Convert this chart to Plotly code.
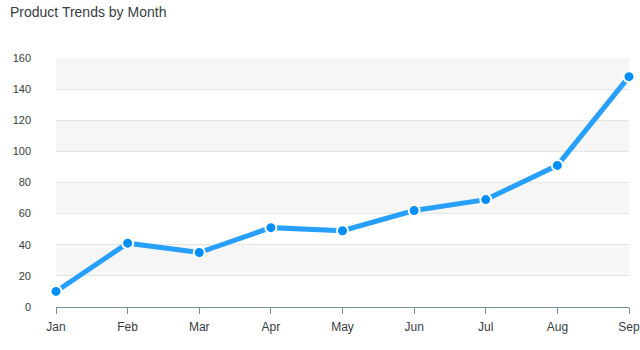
import plotly.graph_objects as go

months = ["Jan", "Feb", "Mar", "Apr", "May", "Jun", "Jul", "Aug", "Sep"]
values = [10, 41, 35, 51, 49, 62, 69, 91, 148]
y_ticks = [0, 20, 40, 60, 80, 100, 120, 140, 160]
band_ranges = [(20, 40), (60, 80), (100, 120), (140, 160)]

fig = go.Figure()
fig.add_trace(go.Scatter(
    x=list(range(len(months))), y=values, mode="lines+markers",
    line=dict(color="#26A0FC", width=5),
    marker=dict(color="#008FFB", size=11, line=dict(color="#ffffff", width=2)),
    cliponaxis=False, hoverinfo="x+y",
))

shapes = []
for lo, hi in band_ranges:
    shapes.append(dict(type="rect", xref="paper", yref="y", x0=0, x1=1, y0=lo, y1=hi,
                       fillcolor="#f6f6f6", line=dict(width=0), layer="below"))

font = "Liberation Sans, Arial, sans-serif"
fig.update_layout(
    width=640, height=350,
    margin=dict(l=56, r=11, t=58, b=43),
    paper_bgcolor="white", plot_bgcolor="white",
    showlegend=False,
    shapes=shapes,
    title=dict(text="Product Trends by Month", x=10/640, xanchor="left", y=1-12/350, yanchor="middle",
               font=dict(family=font, size=14, color="#373d3f")),
    font=dict(family=font, color="#373d3f", size=11),
    xaxis=dict(
        range=[0, 8], tickmode="array", tickvals=list(range(len(months))), ticktext=months,
        showgrid=False, zeroline=False, showline=True, linecolor="#78909c", linewidth=1,
        ticks="outside", ticklen=6, tickcolor="#78909c", tickfont=dict(size=12, family=font, color="#373d3f"),
        ticklabelstandoff=3, fixedrange=True, automargin=False,
    ),
    yaxis=dict(
        range=[0, 160], tickvals=y_ticks, showgrid=True, gridcolor="#e5e5e5", gridwidth=1,
        zeroline=False, showline=False, ticks="", ticklabelstandoff=24,
        tickfont=dict(size=11, family=font, color="#373d3f"), fixedrange=True, automargin=False,
    ),
)
fig.write_html("out.html")
